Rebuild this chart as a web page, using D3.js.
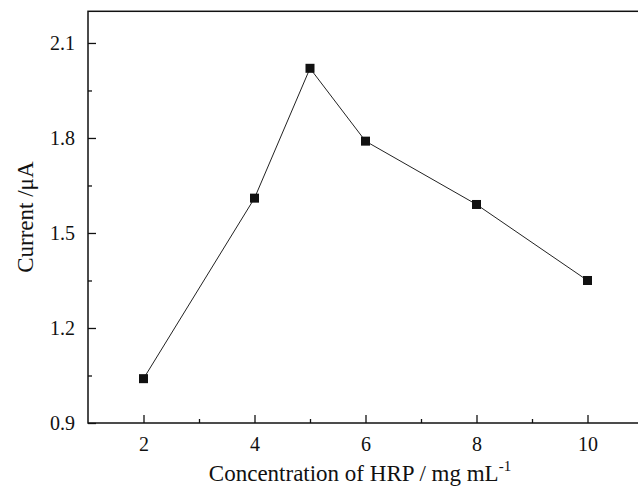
<!DOCTYPE html>
<html>
<head>
<meta charset="utf-8">
<script src="https://cdn.jsdelivr.net/npm/d3@7/dist/d3.min.js"></script>
<style>
  html, body { margin: 0; padding: 0; background: #fff; }
  svg { display: block; }
  text { font-family: "Liberation Serif", "Times New Roman", serif; fill: #111; }
</style>
</head>
<body>
<svg id="chart" width="638" height="488"></svg>
<script>
const concentration = [2, 4, 5, 6, 8, 10];
const current = [1.04, 1.61, 2.02, 1.79, 1.59, 1.35];
const xTicks = [2, 4, 6, 8, 10];
const xMinorTicks = [3, 5, 7, 9];
const yTicks = [0.9, 1.2, 1.5, 1.8, 2.1];
const yMinorTicks = [1.05, 1.35, 1.65, 1.95];

const svg = d3.select("#chart");
const mLeft = 88, mRight = 643, mTop = 11.3, mBottom = 423;

const x = d3.scaleLinear().domain([1, 11]).range([mLeft, mRight]);
const y = d3.scaleLinear().domain([0.9, 2.2]).range([mBottom, mTop]);

// frame
svg.append("rect")
  .attr("x", mLeft).attr("y", mTop)
  .attr("width", mRight - mLeft).attr("height", mBottom - mTop)
  .attr("fill", "none").attr("stroke", "#111").attr("stroke-width", 1.5);

// x axis (ticks inward)
const xAxis = svg.append("g").attr("transform", `translate(0,${mBottom})`)
  .call(d3.axisBottom(x).tickValues(xTicks).tickSizeInner(-8).tickSizeOuter(0).tickPadding(14).tickFormat(d3.format("d")));
xAxis.attr("font-family", null);
xAxis.select(".domain").remove();
xAxis.selectAll("line").attr("stroke", "#111").attr("stroke-width", 1.3);
xAxis.selectAll("text").attr("font-size", 20).style("font-family", "'Liberation Serif', serif").attr("fill", "#111");

svg.append("g").attr("transform", `translate(0,${mBottom})`)
  .call(d3.axisBottom(x).tickValues(xMinorTicks).tickSizeInner(-4).tickSizeOuter(0).tickFormat(""))
  .call(g => g.select(".domain").remove())
  .selectAll("line").attr("stroke", "#111").attr("stroke-width", 1.3);

// y axis
const yAxis = svg.append("g").attr("transform", `translate(${mLeft},0)`)
  .call(d3.axisLeft(y).tickValues(yTicks).tickSizeInner(-8).tickSizeOuter(0).tickPadding(13).tickFormat(d3.format(".1f")));
yAxis.attr("font-family", null);
yAxis.select(".domain").remove();
yAxis.selectAll("line").attr("stroke", "#111").attr("stroke-width", 1.3);
yAxis.selectAll("text").attr("font-size", 20).style("font-family", "'Liberation Serif', serif").attr("fill", "#111");

svg.append("g").attr("transform", `translate(${mLeft},0)`)
  .call(d3.axisLeft(y).tickValues(yMinorTicks).tickSizeInner(-4).tickSizeOuter(0).tickFormat(""))
  .call(g => g.select(".domain").remove())
  .selectAll("line").attr("stroke", "#111").attr("stroke-width", 1.3);

// line
const data = concentration.map((c, i) => ({c, v: current[i]}));
svg.append("path")
  .datum(data)
  .attr("fill", "none").attr("stroke", "#222").attr("stroke-width", 1)
  .attr("d", d3.line().x(d => x(d.c)).y(d => y(d.v)));

// markers
svg.selectAll("rect.pt").data(data).enter().append("rect")
  .attr("class", "pt")
  .attr("x", d => x(d.c) - 4.5).attr("y", d => y(d.v) - 4.5)
  .attr("width", 9).attr("height", 9)
  .attr("fill", "#111");

// axis titles
const xt = svg.append("text")
  .attr("x", 360).attr("y", 481)
  .attr("text-anchor", "middle").attr("font-size", 23);
xt.append("tspan").text("Concentration of HRP / mg mL");
xt.append("tspan").attr("dy", -10).attr("font-size", 15).text("-1");

svg.append("text")
  .attr("transform", `translate(33,${(mTop + mBottom) / 2}) rotate(-90)`)
  .attr("text-anchor", "middle").attr("font-size", 23)
  .text("Current /μA");
</script>
</body>
</html>
